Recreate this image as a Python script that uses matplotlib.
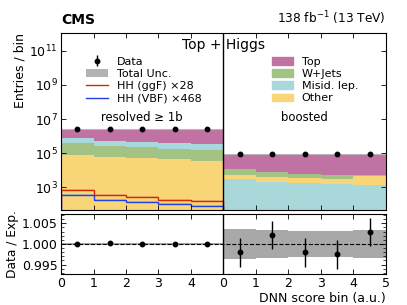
import numpy as np
import matplotlib
matplotlib.use('Agg')
import matplotlib.pyplot as plt
from matplotlib.ticker import FixedLocator, NullLocator, AutoMinorLocator, FormatStrFormatter
from matplotlib.patches import Patch
from matplotlib.lines import Line2D

# bins: 5 resolved + 5 boosted
edges = np.arange(11)
xticklabels = ['0', '1', '2', '3', '4', '0', '1', '2', '3', '4', '5']

# resolved >= 1b (stack order: Other, W+Jets, Misid, Top)
res_other = [77600, 58900, 50100, 43600, 34700]
res_wjets = [294000, 210000, 169000, 138000, 110000]
res_misid = [387000, 280000, 249000, 225000, 179000]
res_top = [1871000, 2080000, 2162000, 2223000, 2306000]

# boosted (stack order: Misid, Other, W+Jets, Top)
boo_misid = [3090, 2190, 1905, 1660, 1380]
boo_other = [1920, 1700, 1485, 1430, 2985]
boo_wjets = [6740, 4050, 2640, 1920, 645]
boo_top = [79500, 83300, 85200, 86200, 86200]

# signals (resolved only)
hh_ggf = [690, 355, 263, 190, 162]
hh_vbf = [355, 182, 141, 107, 83]

# ratio data / exp
ratio = [1.0000, 1.00016, 1.0001, 0.99998, 1.0001, 0.9980, 1.0022, 0.9980, 0.9975, 1.0030]
ratio_err = [0.0001, 0.0001, 0.0001, 0.0001, 0.0001, 0.0035, 0.0034, 0.0035, 0.0035, 0.0034]
unc_rel = [0.0003, 0.0003, 0.0003, 0.0003, 0.0003, 0.0037, 0.0033, 0.0031, 0.0031, 0.0034]

c_top = '#c072a4'
c_wj = '#a2c383'
c_mis = '#a8d8da'
c_oth = '#f8d678'

plt.rcParams['font.size'] = 9

fig = plt.figure(figsize=(4.07, 3.05), dpi=100)
ax = fig.add_axes([0.150, 0.313, 0.798, 0.579])
rax = fig.add_axes([0.150, 0.102, 0.798, 0.195])


def stack(axis, lo, hi, comps, colors):
    base = np.zeros(len(comps[0]))
    e = np.arange(lo, hi + 1)
    for vals, col in zip(comps, colors):
        vals = np.array(vals, dtype=float)
        axis.stairs(base + vals, e, baseline=base, fill=True, color=col, lw=0)
        base = base + vals
    return base


tot_res = stack(ax, 0, 5, [res_other, res_wjets, res_misid, res_top], [c_oth, c_wj, c_mis, c_top])
tot_boo = stack(ax, 5, 10, [boo_misid, boo_other, boo_wjets, boo_top], [c_mis, c_oth, c_wj, c_top])
total = np.concatenate([tot_res, tot_boo])
unc = np.array(unc_rel)

ax.stairs(total * (1 + unc), edges, baseline=total * (1 - unc), fill=True, color='#a0a0a0', alpha=0.7, lw=0)
ax.stairs(total, edges, color='#b8b8b8', lw=0.8)

# signals with light bands
e5 = np.arange(6)
ggf = np.array(hh_ggf, dtype=float)
vbf = np.array(hh_vbf, dtype=float)
ax.stairs(ggf * 1.12, e5, baseline=ggf * 0.88, fill=True, color='#f4a582', alpha=0.6, lw=0)
ax.stairs(vbf * 1.12, e5, baseline=vbf * 0.88, fill=True, color='#9fb4ee', alpha=0.6, lw=0)
ax.stairs(ggf, e5, color='#d42a00', lw=1.0)
ax.stairs(vbf, e5, color='#2040e0', lw=1.0)

centers = edges[:-1] + 0.5
data = total * np.array(ratio)
ax.errorbar(centers, data, yerr=data * np.array(ratio_err), fmt='o', color='black', ms=3.2, lw=1, capsize=0)

ax.axvline(5, color='black', lw=1)
ax.set_yscale('log')
ax.set_xlim(0, 10)
ax.set_ylim(50, 1.1e12)
ax.yaxis.set_major_locator(FixedLocator([1e3, 1e5, 1e7, 1e9, 1e11]))
ax.yaxis.set_minor_locator(NullLocator())
ax.set_xticks(edges)
ax.set_xticklabels([])
ax.set_ylabel('Entries / bin', loc='top', fontsize=9, labelpad=2)

for a in (ax, rax):
    a.tick_params(which='both', direction='in', top=True, right=True, labelsize=9, pad=2.5)
    a.tick_params(which='major', length=3.5, width=0.6)
    a.tick_params(which='minor', length=2, width=0.5)

ax.text(0.5, 0.932, 'Top + Higgs', transform=ax.transAxes, ha='center', va='center', fontsize=10)
tr = ax.get_xaxis_transform()
ax.text(2.5, 0.52, 'resolved ≥ 1b', transform=tr, ha='center', va='center', fontsize=8.4)
ax.text(7.5, 0.52, 'boosted', transform=tr, ha='center', va='center', fontsize=8.4)
ax.text(0, 1.035, 'CMS', transform=ax.transAxes, ha='left', va='bottom', fontsize=10, fontweight='bold')
ax.text(1, 1.035, '138 fb$^{-1}$ (13 TeV)', transform=ax.transAxes, ha='right', va='bottom', fontsize=8.7)

# legends
h_data = ax.errorbar([], [], yerr=[], fmt='o', color='black', ms=3.2, lw=1)
h_unc = Patch(facecolor='#a0a0a0', alpha=0.8)
h_ggf = Line2D([], [], color='#d42a00', lw=1)
h_vbf = Line2D([], [], color='#2040e0', lw=1)
leg1 = ax.legend([h_data, h_unc, h_ggf, h_vbf],
                 ['Data', 'Total Unc.', 'HH (ggF) ×28', 'HH (VBF) ×468'],
                 loc='upper left', bbox_to_anchor=(0.077, 0.865), frameon=False,
                 borderpad=0, borderaxespad=0, handlelength=2.0, handletextpad=0.8,
                 labelspacing=0.2, fontsize=8)
ax.add_artist(leg1)
ax.legend([Patch(color=c_top), Patch(color=c_wj), Patch(color=c_mis), Patch(color=c_oth)],
          ['Top', 'W+Jets', 'Misid. lep.', 'Other'],
          loc='upper left', bbox_to_anchor=(0.649, 0.865), frameon=False,
          borderpad=0, borderaxespad=0, handlelength=1.9, handletextpad=0.8,
          labelspacing=0.2, fontsize=8)

# ratio panel
r = np.array(ratio)
rax.stairs(1 + unc, edges, baseline=1 - unc, fill=True, color='#a8a8a8', lw=0)
rax.axhline(1.0, color='black', ls='--', lw=0.8)
rax.axvline(5, color='black', lw=1)
rax.errorbar(centers, r, yerr=ratio_err, fmt='o', color='black', ms=3.2, lw=1, capsize=0)
rax.set_xlim(0, 10)
rax.set_ylim(0.99275, 1.00717)
rax.set_yticks([0.995, 1.0, 1.005])
rax.yaxis.set_major_formatter(FormatStrFormatter('%.3f'))
rax.yaxis.set_minor_locator(AutoMinorLocator(5))
rax.set_xticks(edges)
rax.set_xticklabels(xticklabels)
rax.set_ylabel('Data / Exp.', fontsize=8.8, labelpad=2)
rax.set_xlabel('DNN score bin (a.u.)', loc='right', fontsize=9, labelpad=1)

fig.align_ylabels([ax, rax])
fig.savefig('out.png', dpi=100)
